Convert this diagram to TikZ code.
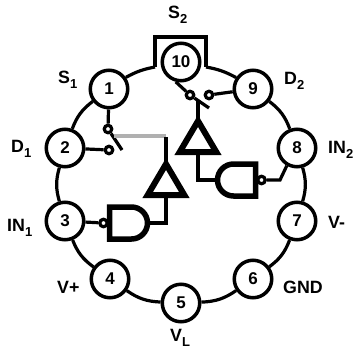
\documentclass[tikz,border=0pt]{standalone}
\usepackage{fontspec}
\setmainfont{Liberation Sans}
\definecolor{mygray}{RGB}{176,176,176}
\tikzstyle{pin}=[draw,circle,line width=3.5pt,fill=white,inner sep=0pt,minimum size=37.5pt,font=\fontsize{17}{17}\bfseries]
\tikzstyle{wire}=[line width=3.2pt]
\tikzstyle{gate}=[line width=6pt,miter limit=10]
\tikzstyle{contact}=[draw,circle,line width=3.2pt,fill=white,inner sep=0pt,minimum size=7.5pt]
\tikzstyle{pinlabel}=[anchor=base west,font=\fontsize{17.8}{17.8}\bfseries,inner sep=0pt]
\newcommand{\low}[1]{\raisebox{-5pt}{\fontsize{13}{13}\bfseries #1}}
\newcommand{\buffergate}[3]{%
	% name, x of apex, y of apex
	\draw[gate,fill=white] (#2,#3) -- (#2+18.3,#3+31) -- (#2-18.3,#3+31) -- cycle;
	\coordinate (#1top) at (#2,#3-3);
	\coordinate (#1bot) at (#2,#3+31);
}
\newcommand{\nandgate}[4]{%
	% name, x of flat side, y of centre, direction (1 right, -1 left)
	\draw[gate,line width=5.5pt,fill=white] (#2,#3-16) -- (#2+#4*22,#3-16)
	arc (-90:90:#4*16 and 16) -- (#2,#3+16) -- cycle;
	\coordinate (#1out) at (#2+#4*38,#3);
	\node[contact] (#1bub) at (#2-#4*6,#3) {};
}
\begin{document}
\begin{tikzpicture}[x=1pt,y=-1pt]
	\useasboundingbox (0,0) rectangle (356,354);
	\node[pin] (p1) at (109,89) {1};
	\node[pin] (p2) at (65,148) {2};
	\node[pin] (p3) at (65,221) {3};
	\node[pin] (p4) at (110,279) {4};
	\node[pin] (p5) at (181,303) {5};
	\node[pin] (p6) at (253,279) {6};
	\node[pin] (p7) at (297,221) {7};
	\node[pin] (p8) at (297,148) {8};
	\node[pin] (p9) at (253,89) {9};
	\node[pin] (p10) at (181,62) {10};
	\foreach \a/\b in {p9/p8,p8/p7,p7/p6,p6/p5,p5/p4,p4/p3,p3/p2,p2/p1}
		\draw[wire] (\a) to[bend left=16] (\b);
	\coordinate (loopa) at (155,67);
	\coordinate (loopb) at (155,37);
	\coordinate (loopc) at (206,37);
	\coordinate (loopd) at (206,67);
	\draw[wire,line join=miter] (loopa) -- (loopb) -- (loopc) -- (loopd);
	\draw[wire] (p1) to[bend left=9] (loopa);
	\draw[wire] (loopd) to[bend left=9] (p9);
	% switches
	\node[contact] (c1) at (108,129) {};
	\node[contact] (c2) at (109,150) {};
	\node[contact] (c3) at (190,95) {};
	\node[contact] (c4) at (209,95) {};
	\coordinate (blade1) at (122,150);
	\coordinate (blade2) at (209,108);
	\coordinate (tap1) at (114,136);
	\coordinate (tap2) at (198,100);
	\coordinate (ctl) at (166,136);
	\draw[wire] (p1) -- (c1);
	\draw[wire] (p2) -- (c2);
	\draw[wire] (p9) -- (c4);
	\draw[wire] (p10.255) -- (c3);
	\draw[wire] (c1) -- (blade1);
	\draw[wire] (c3) -- (blade2);
	\draw[line width=3.4pt,mygray] (tap1) -- (ctl);
	% gates
	\buffergate{ba}{166}{164}
	\buffergate{bb}{198}{121}
	\nandgate{na}{109.5}{223}{1}
	\nandgate{nb}{255.5}{180}{-1}
	\draw[wire] (ctl) ++(0,1) -- (batop);
	\draw[wire] (tap2) -- (bbtop);
	\draw[wire] (babot) |- (naout);
	\draw[wire] (bbbot) |- (nbout);
	\draw[wire] (p3) -- (nabub);
	\coordinate (bend8) at (280,180);
	\draw[wire] (p8.240) -- (bend8) -- (nbbub);
	\node[pinlabel] (ls2) at (168,18) {S\low{2}};
	\node[pinlabel] (ls1) at (58,83) {S\low{1}};
	\node[pinlabel] (ld1) at (11,152.5) {D\low{1}};
	\node[pinlabel] (lin1) at (7,231) {IN\low{1}};
	\node[pinlabel] (lvp) at (57,293) {V+};
	\node[pinlabel] (lvl) at (170,341) {V\low{L}};
	\node[pinlabel] (lgnd) at (283,293) {GND};
	\node[pinlabel] (lvm) at (328,228) {V-};
	\node[pinlabel] (lin2) at (328,153) {IN\low{2}};
	\node[pinlabel] (ld2) at (284,84) {D\low{2}};
\end{tikzpicture}
\end{document}
